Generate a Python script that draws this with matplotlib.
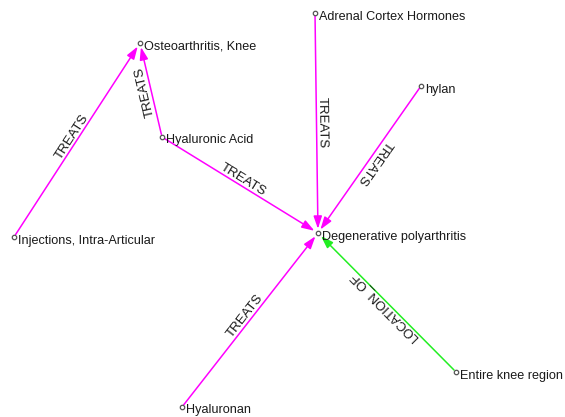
import numpy as np
import matplotlib
matplotlib.use("Agg")
import matplotlib.pyplot as plt

# nodes (pixel layout of the graph)
node_names = ["Osteoarthritis, Knee", "Hyaluronic Acid", "Injections, Intra-Articular",
              "Adrenal Cortex Hormones", "hylan", "Degenerative polyarthritis",
              "Hyaluronan", "Entire knee region"]
node_x = [140, 162, 14, 315, 421, 318, 182, 456]
node_y = [43, 137, 237, 13, 86, 233, 407, 372]

# edges
edge_src = [2, 1, 1, 3, 4, 6, 7]
edge_dst = [0, 0, 5, 5, 5, 5, 5]
edge_label = ["TREATS", "TREATS", "TREATS", "TREATS", "TREATS", "TREATS", "LOCATION_OF"]
edge_color = ["#ff00ff"] * 6 + ["#22ee22"]

plt.rcParams['font.family'] = ['Liberation Sans', 'DejaVu Sans']

fig = plt.figure(figsize=(5.65, 4.17), dpi=100)
ax = fig.add_axes([0, 0, 1, 1])
ax.set_xlim(0, 565)
ax.set_ylim(417, 0)
ax.axis('off')

for s, d, lab, c in zip(edge_src, edge_dst, edge_label, edge_color):
    x1, y1 = node_x[s], node_y[s]
    x2, y2 = node_x[d], node_y[d]
    ax.annotate("", xy=(x2, y2), xytext=(x1, y1),
                arrowprops=dict(arrowstyle='-|>,head_length=0.75,head_width=0.25',
                                color=c, lw=1.1, shrinkA=2, shrinkB=3,
                                mutation_scale=10))
    # label runs along the edge, from source to target (no flipping)
    ang = np.degrees(np.arctan2(-(y2 - y1), x2 - x1))
    ax.text((x1 + x2) / 2, (y1 + y2) / 2, lab, rotation=ang,
            rotation_mode='anchor', ha='center', va='bottom',
            fontsize=9.5, color='#1a1a1a')

for name, x, y in zip(node_names, node_x, node_y):
    ax.plot(x, y, 'o', ms=3.2, mfc='white', mec='#555555', mew=0.9, zorder=5)
    ax.text(x + 4, y + 3.5, name, ha='left', va='center', fontsize=9.1, color='#1a1a1a')

fig.savefig("out.png", dpi=100)
